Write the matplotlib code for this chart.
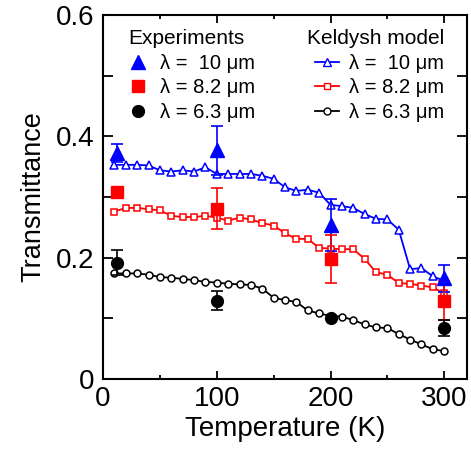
import matplotlib
matplotlib.use("Agg")
import matplotlib.pyplot as plt
from matplotlib.lines import Line2D
from matplotlib.ticker import MultipleLocator, FixedLocator, FuncFormatter

plt.rcParams['font.family'] = ['Liberation Sans', 'DejaVu Sans']

# Keldysh model (10 K steps)
T_model = [10, 20, 30, 40, 50, 60, 70, 80, 90, 100, 110, 120, 130, 140, 150,
           160, 170, 180, 190, 200, 210, 220, 230, 240, 250, 260, 270, 280, 290, 300]
model_10 = [0.353, 0.353, 0.353, 0.352, 0.344, 0.342, 0.344, 0.342, 0.349, 0.338,
            0.338, 0.338, 0.338, 0.335, 0.330, 0.316, 0.310, 0.312, 0.307, 0.287,
            0.285, 0.282, 0.272, 0.264, 0.263, 0.246, 0.181, 0.183, 0.169, 0.162]
model_82 = [0.276, 0.282, 0.282, 0.280, 0.278, 0.269, 0.267, 0.267, 0.269, 0.266,
            0.261, 0.266, 0.263, 0.257, 0.253, 0.240, 0.231, 0.231, 0.216, 0.215,
            0.214, 0.214, 0.198, 0.176, 0.172, 0.158, 0.157, 0.154, 0.151, 0.141]
model_63 = [0.174, 0.174, 0.174, 0.172, 0.168, 0.167, 0.165, 0.163, 0.160, 0.159,
            0.157, 0.156, 0.155, 0.149, 0.134, 0.130, 0.127, 0.113, 0.108, 0.104,
            0.103, 0.097, 0.090, 0.085, 0.084, 0.074, 0.065, 0.057, 0.049, 0.046]

# Experiments
T_exp = [12, 100, 200, 300]
exp_10 = [0.373, 0.377, 0.254, 0.166]
err_10 = [0.015, 0.040, 0.043, 0.022]
exp_82 = [0.308, 0.281, 0.198, 0.129]
err_82 = [0.0, 0.034, 0.040, 0.032]
exp_63 = [0.192, 0.129, 0.100, 0.084]
err_63 = [0.020, 0.016, 0.0, 0.013]

colors = {'10': '#0000ff', '82': '#ff0000', '63': '#000000'}

fig = plt.figure(figsize=(4.71, 4.49), dpi=100)
ax = fig.add_axes([0.2187, 0.1559, 0.7728, 0.8107])

lw = 1.3
ax.plot(T_model, model_10, '-^', color=colors['10'], mfc='white', mec=colors['10'],
        ms=6, lw=lw, mew=1.1, zorder=3)
ax.plot(T_model, model_82, '-s', color=colors['82'], mfc='white', mec=colors['82'],
        ms=5, lw=lw, mew=1.1, zorder=3)
ax.plot(T_model, model_63, '-o', color=colors['63'], mfc='white', mec=colors['63'],
        ms=5, lw=lw, mew=1.1, zorder=3)

ax.errorbar(T_exp, exp_10, yerr=err_10, fmt='^', color=colors['10'], ms=10,
            capsize=4, elinewidth=1.2, capthick=1.2, zorder=4)
ax.errorbar(T_exp, exp_82, yerr=err_82, fmt='s', color=colors['82'], ms=8.5,
            capsize=4, elinewidth=1.2, capthick=1.2, zorder=4)
ax.errorbar(T_exp, exp_63, yerr=err_63, fmt='o', color=colors['63'], ms=8.5,
            capsize=4, elinewidth=1.2, capthick=1.2, zorder=4)

ax.set_xlim(0, 320)
ax.set_ylim(0, 0.6)
ax.xaxis.set_major_locator(FixedLocator([0, 100, 200, 300]))
ax.xaxis.set_minor_locator(FixedLocator([50, 150, 250]))
ax.yaxis.set_major_locator(MultipleLocator(0.1))
ax.yaxis.set_major_formatter(FuncFormatter(
    lambda v, p: ('0' if abs(v) < 1e-9 else f'{v:.1f}') if round(v * 10) % 2 == 0 else ''))

ax.tick_params(axis='both', which='both', direction='in', top=True, right=True,
               labelsize=20, width=1.3)
ax.tick_params(axis='x', which='major', length=6, pad=5)
ax.tick_params(axis='x', which='minor', length=3)
ax.tick_params(axis='y', which='major', length=7, pad=6)
for s in ax.spines.values():
    s.set_linewidth(1.5)

ax.set_xlabel('Temperature (K)', fontsize=20, labelpad=3)
ax.set_ylabel('Transmittance', fontsize=19.5, labelpad=7)

labels = ['λ =  10 μm', 'λ = 8.2 μm', 'λ = 6.3 μm']
h_exp = [Line2D([], [], ls='none', marker='^', color=colors['10'], ms=10),
         Line2D([], [], ls='none', marker='s', color=colors['82'], ms=8.5),
         Line2D([], [], ls='none', marker='o', color=colors['63'], ms=8.5)]
h_mod = [Line2D([], [], ls='-', marker='^', color=colors['10'], mfc='white', ms=6, lw=lw),
         Line2D([], [], ls='-', marker='s', color=colors['82'], mfc='white', ms=5, lw=lw),
         Line2D([], [], ls='-', marker='o', color=colors['63'], mfc='white', ms=5, lw=lw)]

common = dict(frameon=False, fontsize=14.5, title_fontsize=15, labelspacing=0.28,
              borderpad=0.2, borderaxespad=0)
leg1 = ax.legend(h_exp, labels, title='Experiments', loc='upper left',
                 bbox_to_anchor=(0.058, 0.972), handlelength=1.0,
                 handletextpad=0.6, **common)
leg1._legend_box.align = 'left'
ax.add_artist(leg1)
leg2 = ax.legend(h_mod, labels, title='Keldysh model', loc='upper right',
                 bbox_to_anchor=(0.948, 0.972), handlelength=1.2,
                 handletextpad=0.5, **common)
leg2._legend_box.align = 'right'

fig.savefig('out.png', dpi=100)
